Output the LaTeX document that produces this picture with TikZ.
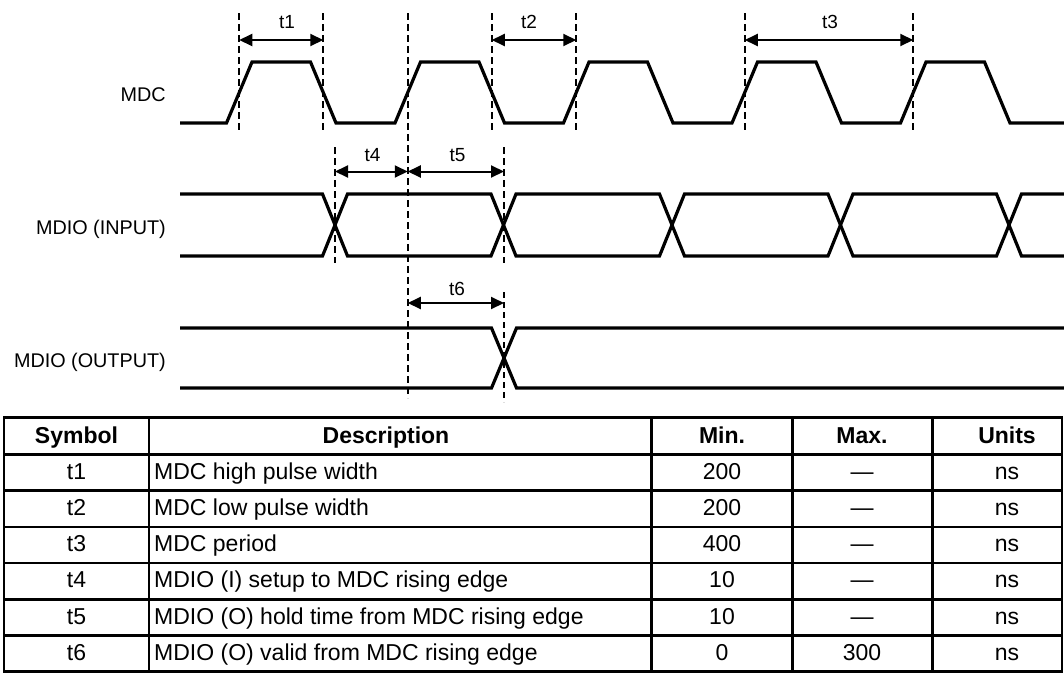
\documentclass[tikz,border=0pt]{standalone}
\usepackage{fontspec}
\setmainfont{Liberation Sans}
\usetikzlibrary{arrows.meta}

\tikzset{
  wave/.style={line width=3.2pt},
  guide/.style={line width=2pt, dash pattern=on 7pt off 4pt},
  dim/.style={line width=2pt, {Triangle[length=13pt,width=12pt]}-{Triangle[length=13pt,width=12pt]}},
  sig/.style={anchor=base east, inner sep=0pt, font=\fontsize{19.8}{22}\selectfont},
  tlab/.style={anchor=base, inner sep=0pt, font=\fontsize{19}{21}\selectfont},
  cell/.style={anchor=base, inner sep=0pt, font=\fontsize{23}{25}\selectfont},
  head/.style={cell, font=\fontsize{23}{25}\selectfont\bfseries},
  grid/.style={line width=2.6pt}
}

\begin{document}
\begin{tikzpicture}[x=1pt,y=-1pt]
\useasboundingbox (0,0) rectangle (1064,675);

%signal names
\node[sig] (mdc) at (166,101) {MDC};
\node[sig] (mdioin) at (166,234.3) {MDIO (INPUT)};
\node[sig] (mdioout) at (166,367) {MDIO (OUTPUT)};

%MDC clock
\draw[wave] (180,123) \foreach \k in {0,...,4} {
  -- ({226.5+168.5*\k},123) -- ({252+168.5*\k},62) -- ({310.5+168.5*\k},62) -- ({336+168.5*\k},123)
} -- (1064,123);

%MDIO (INPUT)
\draw[wave] (180,194) \foreach \c/\ya/\yb in {335/194/256, 503.5/256/194, 672/194/256, 840.5/256/194, 1009/194/256} {
  -- (\c-12.5,\ya) -- (\c+12.5,\yb)
} -- (1064,256);
\draw[wave] (180,256) \foreach \c/\ya/\yb in {335/256/194, 503.5/194/256, 672/256/194, 840.5/194/256, 1009/256/194} {
  -- (\c-12.5,\ya) -- (\c+12.5,\yb)
} -- (1064,194);

%MDIO (OUTPUT)
\draw[wave] (180,328) -- (491.5,328) -- (516.5,388) -- (1064,388);
\draw[wave] (180,388) -- (491.5,388) -- (516.5,328) -- (1064,328);

%guide lines
\foreach \x in {239.25,323.25,491.75,576.25,744.75,913.25}
  \draw[guide] (\x,13) -- (\x,130);
\draw[guide] (407.75,13) -- (407.75,398);
\draw[guide] (335,147) -- (335,263);
\draw[guide] (504,147) -- (504,263);
\draw[guide, line width=1.5pt, dash pattern=on 6pt off 4pt] (504,292) -- (504,402);

%timing arrows
\coordinate (t1a) at (239.25,40);  \coordinate (t1b) at (323.25,40);
\coordinate (t2a) at (491.75,40);  \coordinate (t2b) at (576.25,40);
\coordinate (t3a) at (744.75,40);  \coordinate (t3b) at (913.25,40);
\coordinate (t4a) at (335,171.5);  \coordinate (t4b) at (407.75,171.5);
\coordinate (t5a) at (407.75,171.5); \coordinate (t5b) at (504,171.5);
\coordinate (t6a) at (407.75,303); \coordinate (t6b) at (504,303);
\foreach \t in {1,...,6}
  \draw[dim] (t\t a) -- (t\t b);
\node[tlab] (lt1) at (287,28.3) {t1};
\node[tlab] (lt2) at (529,28.3) {t2};
\node[tlab] (lt3) at (830,28.3) {t3};
\node[tlab] (lt4) at (372.5,161.7) {t4};
\node[tlab] (lt5) at (457.5,161.7) {t5};
\node[tlab] (lt6) at (457,295) {t6};

%table
\draw[grid] (4,417.5) rectangle (1062,671.7);
\foreach \k in {0,...,5}
  \draw[grid] (4,{454.5+36.2*\k}) -- (1062,{454.5+36.2*\k});
\foreach \x in {149,651.7,792.3,932.3}
  \draw[grid] (\x,417.5) -- (\x,671.7);

\node[head] (hsym) at (76.5,443.3) {Symbol};
\node[head] (hdesc) at (386,443.3) {Description};
\node[head] (hmin) at (722,443.3) {Min.};
\node[head] (hmax) at (862,443.3) {Max.};
\node[head] (hunit) at (1007,443.3) {Units};

\foreach \s/\d/\mn/\mx [count=\i from 0] in {
    t1/MDC high pulse width/200/\textemdash,
    t2/MDC low pulse width/200/\textemdash,
    t3/MDC period/400/\textemdash,
    t4/MDIO (I) setup to MDC rising edge/10/\textemdash,
    t5/MDIO (O) hold time from MDC rising edge/10/\textemdash,
    t6/MDIO (O) valid from MDC rising edge/0/300} {
  \node[cell] (sym\i) at (76.5,{479.3+36.2*\i}) {\s};
  \node[cell, anchor=base west] (desc\i) at (154,{479.3+36.2*\i}) {\d};
  \node[cell] (min\i) at (722,{479.3+36.2*\i}) {\mn};
  \node[cell] (max\i) at (862,{479.3+36.2*\i}) {\mx};
  \node[cell] (unit\i) at (1007,{479.3+36.2*\i}) {ns};
}
\end{tikzpicture}
\end{document}
